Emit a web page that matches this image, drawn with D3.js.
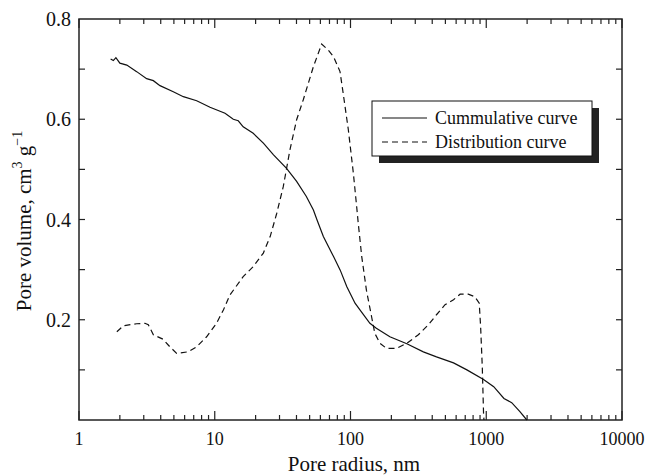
<!DOCTYPE html>
<html><head><meta charset="utf-8">
<script src="https://cdn.jsdelivr.net/npm/d3@7"></script>
<style>body{margin:0;background:#fff}svg{display:block}text{font-family:"Liberation Serif","Times New Roman",serif;fill:#111}</style>
</head><body><svg id="c" width="649" height="476"></svg>
<script>
const cumRadius = [1.71,1.79,1.87,2.0,2.25,2.66,3.15,3.53,3.95,4.95,5.87,7.36,9.23,11.9,13.7,14.9,16.2,19.2,22.9,27.1,33.8,40.1,47.3,53.3,56.7,63.1,75,84,94,108,117,139,155,195,260,344,430,574,720,955,1135,1350,1540,1770,1990];
const cumVolume = [0.720,0.717,0.723,0.712,0.708,0.695,0.681,0.677,0.667,0.655,0.645,0.637,0.624,0.612,0.600,0.597,0.585,0.572,0.552,0.529,0.502,0.476,0.446,0.419,0.399,0.366,0.326,0.299,0.266,0.233,0.220,0.193,0.183,0.166,0.152,0.136,0.126,0.114,0.100,0.081,0.0665,0.043,0.0345,0.0166,0.0];
const distRadius = [1.9,2.12,2.66,3.06,3.24,3.53,4.17,4.67,5.24,6.38,7.36,8.71,10.3,11.6,12.9,16.2,19.2,22.8,25.6,28.6,32,35.8,40.1,44.9,53.3,61.3,68.6,75,83.7,88.3,96.4,105,111,114,121,131,143,151,165,184,218,260,316,375,430,497,574,642,737,823,888,909,935,955,962];
const distVolume = [0.176,0.188,0.192,0.193,0.190,0.170,0.161,0.146,0.133,0.136,0.146,0.166,0.193,0.220,0.249,0.286,0.306,0.333,0.366,0.412,0.466,0.539,0.599,0.639,0.705,0.750,0.738,0.725,0.695,0.652,0.579,0.492,0.426,0.393,0.326,0.259,0.206,0.173,0.153,0.143,0.143,0.153,0.170,0.190,0.210,0.230,0.240,0.251,0.251,0.246,0.233,0.186,0.106,0.014,0.0];
const xMajorTicks = [1,10,100,1000,10000];
const xTickLabels = ["1","10","100","1000","10000"];
const yTicks = [0.1,0.2,0.3,0.4,0.5,0.6,0.7];
const yTickLabels = ["0.2","0.4","0.6","0.8"];
const legendLabels = ["Cummulative curve","Distribution curve"];

const L=79,R=622,T=19,B=420;
const svg=d3.select("#c");
const x=d3.scaleLog().domain([1,10000]).range([L,R]);
const y=d3.scaleLinear().domain([0,0.8]).range([B,T]);

const xMinor=[];
for(let d=1;d<10000;d*=10){for(let k=2;k<=9;k++)xMinor.push(d*k);}
const g=svg.append("g");
const tickStroke="#222";
function xt(vals,len){
  g.selectAll(null).data(vals).enter().append("line")
   .attr("x1",d=>x(d)).attr("x2",d=>x(d)).attr("y1",B).attr("y2",B-len).attr("stroke",tickStroke).attr("stroke-width",1.2);
  g.selectAll(null).data(vals).enter().append("line")
   .attr("x1",d=>x(d)).attr("x2",d=>x(d)).attr("y1",T).attr("y2",T+len).attr("stroke",tickStroke).attr("stroke-width",1.2);
}
xt(xMinor,5); xt(xMajorTicks,9);
function yt(vals,len){
  g.selectAll(null).data(vals).enter().append("line")
   .attr("x1",L).attr("x2",L+len).attr("y1",d=>y(d)).attr("y2",d=>y(d)).attr("stroke",tickStroke).attr("stroke-width",1.2);
  g.selectAll(null).data(vals).enter().append("line")
   .attr("x1",R).attr("x2",R-len).attr("y1",d=>y(d)).attr("y2",d=>y(d)).attr("stroke",tickStroke).attr("stroke-width",1.2);
}
yt(yTicks,6);
svg.append("rect").attr("x",L).attr("y",T).attr("width",R-L).attr("height",B-T).attr("fill","none").attr("stroke","#222").attr("stroke-width",1.5);

svg.selectAll(null).data(xMajorTicks).enter().append("text")
 .attr("x",d=>x(d)).attr("y",B+25).attr("text-anchor","middle").attr("font-size",18).text((d,i)=>xTickLabels[i]);
svg.selectAll(null).data(yTickLabels).enter().append("text")
 .attr("x",L-8).attr("y",d=>y(+d)+7).attr("text-anchor","end").attr("font-size",20).text(d=>d);

svg.append("text").attr("x",354).attr("y",471).attr("text-anchor","middle").attr("font-size",21).text("Pore radius, nm");
const yt2=svg.append("text").attr("transform","translate(31,221) rotate(-90)").attr("text-anchor","middle").attr("font-size",21);
yt2.append("tspan").text("Pore volume, cm");
yt2.append("tspan").attr("dy",-9).attr("font-size",14).text("3");
yt2.append("tspan").attr("dy",9).text(" g");
yt2.append("tspan").attr("dy",-9).attr("font-size",14).text("\u22121");

const line=d3.line().x(d=>x(d[0])).y(d=>y(d[1]));
svg.append("path").datum(cumRadius.map((r,i)=>[r,cumVolume[i]])).attr("d",line)
 .attr("fill","none").attr("stroke","#111").attr("stroke-width",1.2);
svg.append("path").datum(distRadius.map((r,i)=>[r,distVolume[i]])).attr("d",line)
 .attr("fill","none").attr("stroke","#111").attr("stroke-width",1.2).attr("stroke-dasharray","6,4");

const lg=svg.append("g");
lg.append("rect").attr("x",379).attr("y",108).attr("width",220).attr("height",55).attr("fill","#222");
lg.append("rect").attr("x",372).attr("y",101).attr("width",220).attr("height",55).attr("fill","#fff").attr("stroke","#111").attr("stroke-width",1);
legendLabels.forEach((t,i)=>{
  const yy=118+i*24;
  lg.append("line").attr("x1",382).attr("x2",427).attr("y1",yy).attr("y2",yy).attr("stroke","#111").attr("stroke-width",1.2)
    .attr("stroke-dasharray",i?"6,4":null);
  lg.append("text").attr("x",435).attr("y",yy+6).attr("font-size",18).text(t);
});
</script></body></html>
